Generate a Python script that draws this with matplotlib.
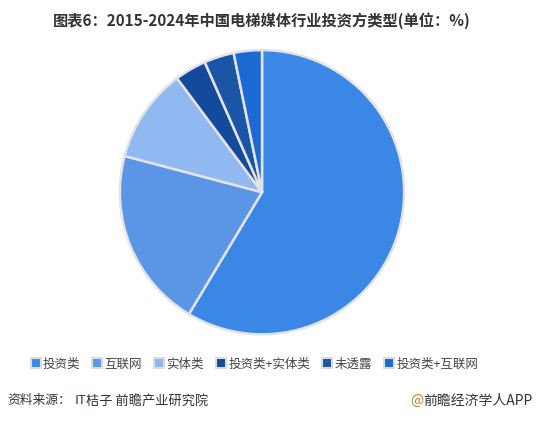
import matplotlib.pyplot as plt
from matplotlib.lines import Line2D

plt.rcParams['font.family'] = ['Noto Sans CJK SC', 'DejaVu Sans']

# 数据（从图中估读，单位：%）
categories = ["投资类", "互联网", "实体类", "投资类+实体类", "未透露", "投资类+互联网"]
shares = [58.6, 20.5, 10.7, 3.6, 3.4, 3.2]
colors = ["#3a87e6", "#5b96e6", "#8fb9f0", "#134a9c", "#1b55a6", "#1c69d4"]

title = "图表6：2015-2024年中国电梯媒体行业投资方类型(单位：%)"

fig = plt.figure(figsize=(5.47, 4.22), dpi=100)
fig.patch.set_facecolor("white")

ax = fig.add_axes([0.214, 0.201, 0.530, 0.687])
ax.pie(shares, colors=colors, startangle=90, counterclock=False,
       wedgeprops=dict(edgecolor="#e3e3e3", linewidth=1.8))
ax.set_xlim(-1.02, 1.02)
ax.set_ylim(-1.02, 1.02)
ax.set_aspect("equal")
ax.axis("off")

fig.text(0.478, 0.952, title, ha="center", va="center", fontsize=11,
         fontweight="bold", color="#333333")

# 图例
handles = [Line2D([0], [0], marker="s", linestyle="none", markersize=6.5,
                  markerfacecolor=c, markeredgecolor="#dcdcdc", markeredgewidth=1.5)
           for c in colors]
fig.legend(handles, categories, loc="center", bbox_to_anchor=(0.465, 0.137), ncol=6,
           frameon=False, fontsize=9, handletextpad=0.15, columnspacing=1.0,
           handlelength=0.8, labelcolor="#444444")

# 来源
fig.text(0.013, 0.05, "资料来源：", ha="left", va="center", fontsize=9.2, color="#333333")
fig.text(0.137, 0.05, "IT", ha="left", va="center", fontsize=9.5, color="#7a1f1f")
fig.text(0.158, 0.05, "桔子 前瞻产业研究院", ha="left", va="center", fontsize=9.5, color="#333333")
fig.text(0.75, 0.05, "@", ha="left", va="center", fontsize=10, color="#b8862b")
fig.text(0.773, 0.05, "前瞻经济学人APP", ha="left", va="center", fontsize=10, color="#333333")

fig.savefig("out.png", dpi=100)
